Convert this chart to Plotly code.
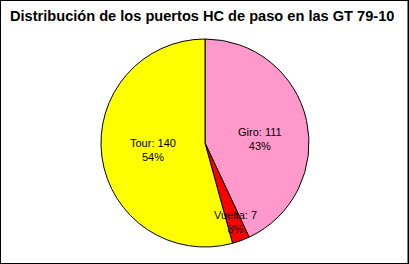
import math
import plotly.graph_objects as go

labels = ["Giro", "Vuelta", "Tour"]
values = [111, 7, 140]
colors = ["#FF99CC", "#FF0000", "#FFFF00"]
label_radius = [0.5, 0.8, 0.5]
label_shift = [(4, 7), (2, 1), (0, 0)]

W, H = 409, 264
cx, cy, R = 205, 143, 104

fig = go.Figure(go.Pie(
    labels=labels, values=values, sort=False, direction="clockwise", rotation=0,
    marker=dict(colors=colors, line=dict(color="black", width=1)),
    textinfo="none", hoverinfo="label+value+percent", showlegend=False,
    domain=dict(x=[(cx - R) / W, (cx + R) / W], y=[1 - (cy + R) / H, 1 - (cy - R) / H]),
))

total = sum(values)
cum = 0
anns = []
for lab, v, rf, (sx, sy) in zip(labels, values, label_radius, label_shift):
    mid = (cum + v / 2) / total * 2 * math.pi
    cum += v
    px = cx + rf * R * math.sin(mid) + sx
    py = cy - rf * R * math.cos(mid) + sy
    pct = round(v / total * 100)
    anns.append(dict(x=px / W, y=1 - py / H, xref="paper", yref="paper",
                     text=f"{lab}: {v}<br>{pct}%", showarrow=False,
                     font=dict(family="Liberation Sans, Arial", size=11, color="black"),
                     xanchor="center", yanchor="middle"))

anns.append(dict(x=0.493, y=1 - 16 / H, xref="paper", yref="paper",
                 text="<b>Distribución de los puertos HC de paso en las GT 79-10</b>",
                 showarrow=False, xanchor="center", yanchor="middle",
                 font=dict(family="Liberation Sans, Arial", size=14.6, color="black")))

fig.update_layout(
    width=W, height=H, margin=dict(l=0, r=0, t=0, b=0),
    paper_bgcolor="white", plot_bgcolor="white",
    annotations=anns,
    shapes=[dict(type="rect", xref="paper", yref="paper", x0=0, y0=0.5 / H - 0.002,
                 x1=1 - 0.5 / W, y1=1, line=dict(color="black", width=2))],
)
fig.write_html("out.html")
